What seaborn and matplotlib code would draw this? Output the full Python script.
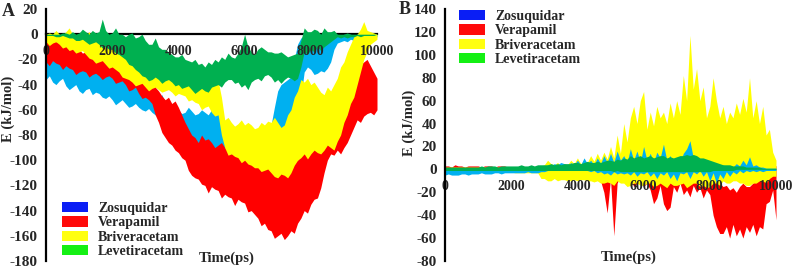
import numpy as np
import pandas as pd
import seaborn as sns
import matplotlib.pyplot as plt
from matplotlib.patches import Patch

# time axis (ps), sampled every 100 ps
time = list(range(0, 10001, 100))
names = ['Zosuquidar', 'Verapamil', 'Briveracetam', 'Levetiracetam']

# panel A: lower / upper envelope of each trace (kJ/mol)
zos_a_lo = [-36, -33, -38, -40, -37, -35, -41, -44, -42, -40,
            -45, -47, -44, -43, -48, -46, -47, -50, -51, -49,
            -52, -56, -54, -52, -55, -58, -57, -55, -58, -60,
            -61, -59, -62, -64, -66, -68, -72, -76, -80, -84,
            -88, -86, -92, -95, -96, -94, -97, -99, -100, -98,
            -99, -101, -102, -100, -103, -106, -105, -103, -104, -106,
            -107, -105, -106, -108, -109, -107, -110, -109, -108, -106,
            -106, -104, -104, -102, -100, -90, -70, -50, -30, -26,
            -28, -32, -31, -29, -30, -27, -22, -12, -7, -6,
            -5, -6, -4, -5, -4, -3, -3, -4, -2, -3, -2]
zos_a_hi = [-18, -22, -21, -17, -22, -25, -24, -21, -27, -29,
            -26, -23, -29, -31, -30, -27, -32, -34, -31, -28,
            -34, -37, -36, -33, -38, -40, -41, -38, -42, -45,
            -44, -40, -47, -49, -50, -48, -54, -56, -58, -57,
            -60, -63, -62, -58, -61, -64, -63, -60, -62, -64,
            -60, -61, -62, -70, -72, -74, -75, -73, -76, -77,
            -75, -74, -77, -76, -76, -74, -75, -73, -72, -58,
            -45, -40, -38, -36, -34, -20, -8, -3, -1, -2,
            -4, -10, -8, -5, -6, -3, -2, -1, 0, -1,
            0, 0, 0, -1, 0, 0, 0, -1, 0, 0, 0]
ver_a_lo = [-22, -25, -21, -23, -24, -28, -25, -27, -28, -32,
            -30, -29, -30, -34, -32, -31, -33, -36, -34, -33,
            -35, -39, -38, -37, -40, -45, -44, -42, -47, -51,
            -50, -52, -55, -64, -70, -78, -82, -86, -88, -92,
            -94, -98, -100, -108, -112, -114, -115, -119, -120, -126,
            -121, -123, -124, -130, -127, -129, -130, -136, -131, -133,
            -134, -141, -140, -143, -146, -152, -150, -155, -156, -162,
            -160, -158, -163, -160, -156, -158, -150, -146, -140, -142,
            -135, -131, -130, -122, -110, -100, -95, -96, -92, -95,
            -90, -86, -80, -74, -68, -70, -65, -63, -62, -64, -60]
ver_a_hi = [-3, -1, -4, -6, -5, -4, -7, -11, -10, -8,
            -12, -15, -14, -11, -16, -19, -18, -16, -19, -22,
            -20, -18, -22, -26, -25, -23, -28, -31, -30, -27,
            -32, -35, -36, -42, -45, -49, -52, -50, -55, -53,
            -58, -64, -70, -75, -80, -82, -86, -80, -84, -83,
            -86, -90, -88, -86, -90, -93, -95, -92, -96, -98,
            -98, -96, -100, -103, -102, -100, -104, -106, -106, -103,
            -108, -104, -106, -102, -104, -96, -100, -90, -80, -66,
            -60, -56, -58, -60, -55, -50, -55, -48, -50, -44,
            -40, -30, -25, -18, -20, -24, -22, -20, -25, -30, -35]
bri_a_lo = [-6, -9, -7, -6, -8, -11, -10, -13, -12, -15,
            -14, -13, -16, -19, -20, -23, -22, -21, -24, -27,
            -26, -28, -30, -34, -35, -36, -38, -41, -40, -39,
            -42, -45, -43, -42, -44, -46, -45, -44, -46, -49,
            -47, -48, -49, -53, -52, -54, -55, -60, -58, -57,
            -62, -65, -64, -80, -90, -96, -95, -97, -98, -102,
            -100, -103, -104, -106, -106, -109, -108, -107, -110, -113,
            -114, -111, -112, -114, -110, -104, -100, -98, -95, -99,
            -95, -92, -94, -95, -92, -88, -90, -92, -85, -80,
            -70, -64, -55, -50, -40, -30, -20, -14, -8, -6, -4]
bri_a_hi = [0, 1, 0, 3, 0, -1, 2, 5, 0, -2,
            0, 3, -1, 2, -2, -4, -2, 1, -3, -2,
            -4, -6, -8, -5, -12, -10, -14, -16, -18, -15,
            -20, -17, -22, -24, -22, -19, -24, -27, -25, -22,
            -26, -28, -30, -28, -33, -31, -35, -34, -36, -33,
            -38, -34, -37, -50, -68, -66, -70, -73, -71, -68,
            -72, -70, -72, -75, -74, -70, -72, -69, -70, -66,
            -70, -74, -72, -64, -60, -50, -45, -36, -38, -35,
            -40, -38, -42, -46, -48, -42, -45, -40, -35, -26,
            -22, -14, -8, -2, 0, 4, 10, 3, 2, 1, 0]
lev_a_lo = [-1, -1, -1, -2, -2, -1, -2, -3, -3, -5,
            -5, -4, -6, -8, -7, -6, -8, -11, -10, -12,
            -12, -15, -16, -18, -20, -24, -25, -28, -30, -33,
            -34, -37, -36, -34, -36, -39, -37, -36, -38, -41,
            -40, -43, -42, -41, -44, -47, -45, -43, -45, -46,
            -42, -41, -40, -42, -38, -36, -36, -39, -38, -42,
            -40, -44, -38, -36, -35, -37, -33, -32, -34, -38,
            -36, -39, -36, -34, -35, -37, -35, -26, -14, -16,
            -12, -14, -10, -13, -10, -8, -6, -4, -2, -3,
            -2, -3, -2, -2, -1, -2, -1, -1, -1, -1, 0]
lev_a_hi = [0, 0, 0, 0, 0, 1, 1, 0, 2, 0,
            1, 4, 2, 0, 3, 1, 2, 12, 3, 0,
            1, 5, 0, 0, -2, 0, 1, -3, -2, 0,
            -5, -8, -8, -3, -10, -12, -12, -14, -16, -18,
            -18, -16, -20, -21, -22, -20, -24, -23, -26, -22,
            -24, -20, -22, -18, -20, -15, -18, -19, -15, -10,
            0, -10, -14, -16, -12, -10, -12, -14, -14, -15,
            -15, -14, -16, -18, -17, -16, -15, -5, 5, 2,
            2, 4, 3, 0, 5, 2, 2, 3, 0, 0,
            0, 1, 0, 0, 0, 0, 0, 0, 0, 0, 0]

# panel B
zos_b_lo = [-5, -4, -5, -5, -5, -4, -4, -5, -4, -4,
            -4, -3, -4, -4, -4, -3, -3, -4, -3, -3,
            -3, -3, -3, -3, -3, -2, -3, -3, -3, -2,
            -2, -1, -1, 0, 0, 0, 0, 0, 0, 0,
            0, 0, 0, -1, -2, -1, -3, -2, -4, -3,
            -5, -2, -4, -3, -4, -3, -5, -2, -6, -3,
            -4, -2, -6, -3, -8, -3, -5, -2, -8, -4,
            -10, -3, -4, -2, -8, -2, -4, -1, -6, -2,
            -10, -3, -12, -4, -8, -2, -6, -2, -4, -1,
            -3, -1, -2, -1, -2, -1, -2, -1, -1, -1, -1]
zos_b_hi = [0, 0, 0, 0, 0, 0, 0, 1, 1, 0,
            1, 0, 1, 1, 1, 0, 1, 1, 1, 0,
            1, 0, 1, 1, 1, 0, 1, 1, 1, 2,
            2, 4, 3, 5, 4, 6, 5, 3, 6, 4,
            8, 4, 10, 5, 8, 4, 10, 5, 12, 6,
            14, 6, 16, 8, 12, 6, 18, 8, 16, 6,
            20, 8, 14, 6, 15, 10, 22, 8, 12, 6,
            10, 6, 14, 18, 25, 10, 10, 5, 8, 4,
            6, 3, 5, 2, 4, 2, 3, 2, 5, 3,
            8, 4, 11, 3, 4, 2, 2, 1, 1, 1, 1]
ver_b_lo = [0, 0, 0, 0, 0, 0, 0, 0, 0, 0,
            0, 0, 0, -1, -1, -1, -1, -1, -1, -1,
            -1, -1, -1, -2, -2, -2, -2, -2, -2, -3,
            -3, -3, -4, -4, -4, -5, -4, -4, -5, -5,
            -5, -6, -6, -5, -6, -7, -8, -10, -20, -38,
            -8, -58, -12, -6, -8, -10, -8, -15, -12, -10,
            -15, -12, -18, -30, -25, -14, -30, -36, -33, -15,
            -20, -12, -22, -18, -24, -14, -20, -16, -25, -18,
            -22, -40, -50, -56, -56, -50, -60, -48, -58, -52,
            -60, -50, -55, -48, -58, -50, -52, -30, -28, -18, -44]
ver_b_hi = [3, 3, 2, 4, 3, 3, 2, 3, 3, 3,
            3, 2, 3, 3, 3, 2, 3, 3, 3, 2,
            2, 2, 2, 2, 2, 2, 2, 2, 1, 1,
            2, 2, 2, 3, 3, 3, 3, 3, 4, 4,
            4, 4, 4, 4, 3, 3, 3, 3, 2, 2,
            2, 2, 2, 2, 3, 3, 3, 3, 4, 4,
            4, 4, 5, 4, 4, 4, 4, 3, 3, 3,
            3, 3, 3, 3, 4, 3, 3, 3, 3, 2,
            2, -5, -8, -12, -15, -14, -18, -16, -20, -15,
            -12, -15, -15, -12, -10, -8, 6, 8, 8, 5, 3]
bri_b_lo = [-2, -2, -2, -2, -2, -2, -2, -2, -2, -2,
            -2, -2, -2, -2, -2, -2, -2, -2, -2, -2,
            -2, -3, -3, -3, -3, -3, -3, -3, -3, -8,
            -8, -10, -10, -8, -10, -9, -9, -10, -10, -9,
            -10, -9, -9, -10, -10, -11, -10, -12, -12, -11,
            -12, -14, -10, -12, -12, -15, -14, -12, -12, -14,
            -14, -12, -12, -15, -14, -12, -14, -16, -12, -14,
            -14, -13, -12, -16, -14, -12, -12, -15, -14, -16,
            -15, -12, -12, -14, -10, -12, -12, -10, -10, -12,
            -12, -14, -14, -12, -12, -10, -10, -12, -8, -6, -6]
bri_b_hi = [2, 2, 2, 2, 2, 2, 2, 2, 2, 2,
            2, 2, 2, 2, 2, 2, 2, 2, 2, 2,
            2, 2, 2, 2, 2, 2, 2, 2, 2, 3,
            4, 8, 5, 4, 6, 3, 5, 4, 8, 5,
            10, 5, 8, 6, 12, 7, 14, 8, 15, 9,
            20, 10, 30, 14, 40, 24, 45, 55, 40, 60,
            68, 35, 50, 38, 55, 45, 50, 40, 58, 45,
            60, 48, 82, 60, 117, 70, 88, 60, 72, 45,
            55, 80, 60, 45, 55, 40, 50, 45, 58, 48,
            62, 50, 80, 45, 60, 40, 55, 30, 35, 15, 8]
lev_b_lo = [-1] * 51 + [-2, -1] + [-2] * 28 + [-1] * 7 + [0] * 13
lev_b_hi = [2, 2, 2, 2, 2, 2, 2, 2, 2, 2,
            2, 3, 2, 3, 3, 3, 2, 3, 3, 3,
            3, 3, 3, 4, 3, 3, 4, 3, 4, 4,
            4, 4, 5, 4, 5, 4, 5, 5, 5, 6,
            6, 5, 6, 7, 6, 6, 7, 6, 7, 8,
            8, 7, 9, 8, 10, 9, 12, 10, 11, 12,
            10, 11, 12, 10, 11, 12, 12, 10, 11, 10,
            11, 12, 12, 13, 12, 13, 12, 10, 10, 9,
            8, 7, 6, 5, 4, 4, 4, 3, 3, 3,
            3, 2, 2, 2, 2, 2, 1, 1, 1, 1, 1]

line_colors = {'Zosuquidar': '#00B0F0', 'Verapamil': '#FF0000',
               'Briveracetam': '#FFFF00', 'Levetiracetam': '#00B050'}
legend_colors = ['#0A1EF5', '#FF0A0A', '#FFFF10', '#14F014']

sns.set_theme(style='white')
plt.rcParams['font.family'] = ['Liberation Serif', 'DejaVu Serif']
plt.rcParams['font.weight'] = 'bold'
plt.rcParams['axes.unicode_minus'] = False


def band(ax, name, lo, hi, z):
    # two observations per time step -> seaborn draws the min..max band
    df = pd.DataFrame({'time': time + time, 'E': lo + hi})
    sns.lineplot(data=df, x='time', y='E', errorbar=('pi', 100), color=line_colors[name],
                 linewidth=0, err_kws={'alpha': 1, 'linewidth': 0, 'zorder': z}, ax=ax)


fig = plt.figure(figsize=(7.96, 2.70), dpi=100)
axA = fig.add_axes([46 / 796, 9 / 270, 331 / 796, 252 / 270])
axB = fig.add_axes([445 / 796, 9 / 270, 331 / 796, 252 / 270])

series_a = [('Zosuquidar', zos_a_lo, zos_a_hi), ('Verapamil', ver_a_lo, ver_a_hi),
            ('Briveracetam', bri_a_lo, bri_a_hi), ('Levetiracetam', lev_a_lo, lev_a_hi)]
for k, (n, lo, hi) in enumerate(series_a):
    band(axA, n, lo, hi, 0.2 + 0.1 * k)

series_b = [('Verapamil', ver_b_lo, ver_b_hi), ('Briveracetam', bri_b_lo, bri_b_hi),
            ('Zosuquidar', zos_b_lo, zos_b_hi), ('Levetiracetam', lev_b_lo, lev_b_hi)]
for k, (n, lo, hi) in enumerate(series_b):
    band(axB, n, lo, hi, 0.2 + 0.1 * k)

for ax, ylim, xlab, ylab in [(axA, (-180, 20), (0.547, 0.012), (-0.115, 0.603)),
                             (axB, (-80, 140), (0.556, 0.016), (-0.109, 0.548))]:
    ax.set_xlim(0, 10000)
    ax.set_ylim(*ylim)
    ax.set_xticks(range(0, 10001, 2000))
    ax.set_yticks(range(ylim[0], ylim[1] + 1, 20))
    ax.tick_params(axis='both', length=0)
    ax.tick_params(axis='x', pad=8, labelsize=10)
    ax.tick_params(axis='y', pad=6, labelsize=11)
    for lab in ax.get_xticklabels() + ax.get_yticklabels():
        lab.set_fontweight('bold')
    ax.spines['top'].set_visible(False)
    ax.spines['right'].set_visible(False)
    ax.spines['left'].set_color('black')
    ax.spines['left'].set_linewidth(1.6)
    ax.spines['bottom'].set_position(('data', 0))
    ax.spines['bottom'].set_color('black')
    ax.spines['bottom'].set_linewidth(1.6)
    ax.spines['bottom'].set_zorder(0.1)
    ax.set_facecolor('white')
    ax.set_xlabel('Time(ps)', fontsize=10.5, fontweight='bold', va='center')
    ax.xaxis.set_label_coords(*xlab)
    ax.set_ylabel('E (kJ/mol)', fontsize=10.5, fontweight='bold', va='center')
    ax.yaxis.set_label_coords(*ylab)

axB.spines['bottom'].set_visible(False)

handles = [Patch(facecolor=c, edgecolor='none') for c in legend_colors]
leg_kw = dict(loc='upper left', frameon=False, borderpad=0, borderaxespad=0, handlelength=1.9,
              handleheight=0.75, handletextpad=0.7, labelspacing=0.1,
              prop={'family': 'Liberation Serif', 'weight': 'bold', 'size': 10})
fig.legend(handles, names, bbox_to_anchor=(62 / 796, 1 - 202 / 270), **leg_kw)
fig.legend(handles, names, bbox_to_anchor=(459 / 796, 1 - 10 / 270), **leg_kw)

fig.text(8 / 796, 1 - 11 / 270, 'A', fontsize=13, fontweight='bold', ha='center', va='center')
fig.text(405 / 796, 1 - 10 / 270, 'B', fontsize=13, fontweight='bold', ha='center', va='center')

fig.savefig('out.png', dpi=100, facecolor='white')
